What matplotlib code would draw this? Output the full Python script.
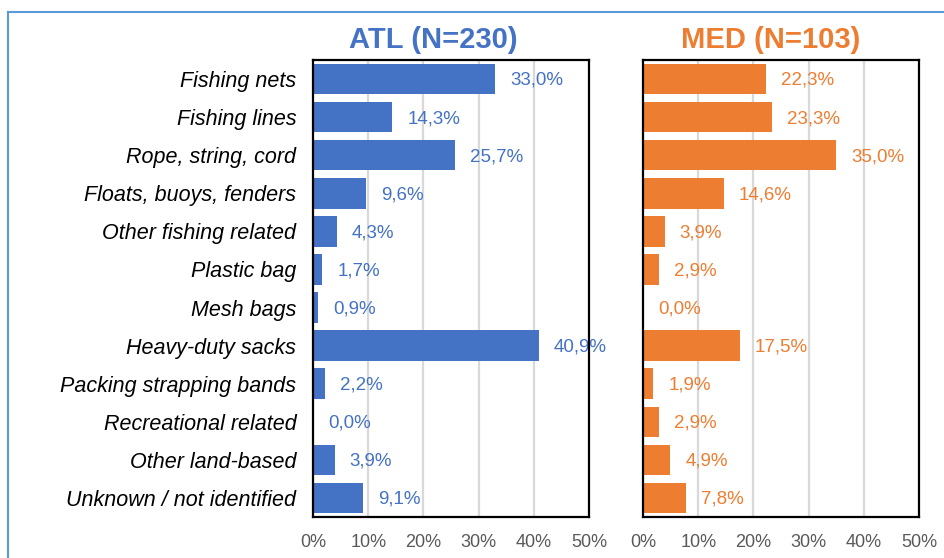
import matplotlib
matplotlib.use("Agg")
import matplotlib.pyplot as plt
from matplotlib.lines import Line2D

plt.rcParams['font.family'] = ['Liberation Sans', 'DejaVu Sans']

categories = [
    "Fishing nets", "Fishing lines", "Rope, string, cord", "Floats, buoys, fenders",
    "Other fishing related", "Plastic bag", "Mesh bags", "Heavy-duty sacks",
    "Packing strapping bands", "Recreational related", "Other land-based",
    "Unknown / not identified",
]
atl_values = [33.0, 14.3, 25.7, 9.6, 4.3, 1.7, 0.9, 40.9, 2.2, 0.0, 3.9, 9.1]
med_values = [22.3, 23.3, 35.0, 14.6, 3.9, 2.9, 0.0, 17.5, 1.9, 2.9, 4.9, 7.8]
atl_title = "ATL (N=230)"
med_title = "MED (N=103)"
x_ticks = [0, 10, 20, 30, 40, 50]
x_tick_labels = ["0%", "10%", "20%", "30%", "40%", "50%"]

BLUE = "#4472C4"
ORANGE = "#ED7D31"
GRID = "#D9D9D9"
TICK = "#595959"

W, H = 945, 558
fig = plt.figure(figsize=(W / 100, H / 100), dpi=100)

def px_rect(x0, x1, y0, y1):
    return [x0 / W, 1 - y1 / H, (x1 - x0) / W, (y1 - y0) / H]

ax1 = fig.add_axes(px_rect(313, 589, 60, 517))
ax2 = fig.add_axes(px_rect(643, 919, 60, 517))

def draw_panel(ax, values, color, title, title_x, show_labels):
    y = list(range(len(categories)))
    ax.barh(y, values, height=0.8, color=color, zorder=3)
    ax.set_xlim(0, 50)
    ax.set_ylim(len(categories) - 0.5, -0.5)
    for xv in x_ticks[1:-1]:
        ax.axvline(xv, color=GRID, lw=1.6, zorder=1)
    ax.set_xticks(x_ticks)
    ax.set_xticklabels(x_tick_labels, fontsize=13, color=TICK)
    ax.tick_params(axis='x', length=0, pad=12)
    ax.set_yticks(y)
    if show_labels:
        ax.set_yticklabels(categories, fontsize=15.5, style='italic', color='black')
        ax.tick_params(axis='y', length=0, pad=12)
    else:
        ax.set_yticklabels([])
        ax.tick_params(axis='y', length=0)
    for s in ax.spines.values():
        s.set_color('black')
        s.set_linewidth(1.6)
        s.set_zorder(4)
    for yi, v in zip(y, values):
        ax.annotate(f"{v:.1f}%".replace('.', ','), xy=(v, yi), xytext=(11, -1),
                    textcoords='offset points', ha='left', va='center',
                    fontsize=13.5, color=color, annotation_clip=False)
    fig.text(title_x / W, 1 - 40 / H, title, color=color, fontsize=21,
             fontweight='bold', ha='center', va='center')

draw_panel(ax1, atl_values, BLUE, atl_title, 433, True)
draw_panel(ax2, med_values, ORANGE, med_title, 771, False)

# Light blue frame around the figure (top and left edges)
frame_col = "#5B9BD5"
fig.add_artist(Line2D([8 / W, 8 / W], [0, 1 - 12 / H], color=frame_col, lw=1.5,
                      transform=fig.transFigure))
fig.add_artist(Line2D([8 / W, 1], [1 - 12 / H, 1 - 12 / H], color=frame_col, lw=1.5,
                      transform=fig.transFigure))

fig.savefig("out.png", dpi=100, facecolor='white')
